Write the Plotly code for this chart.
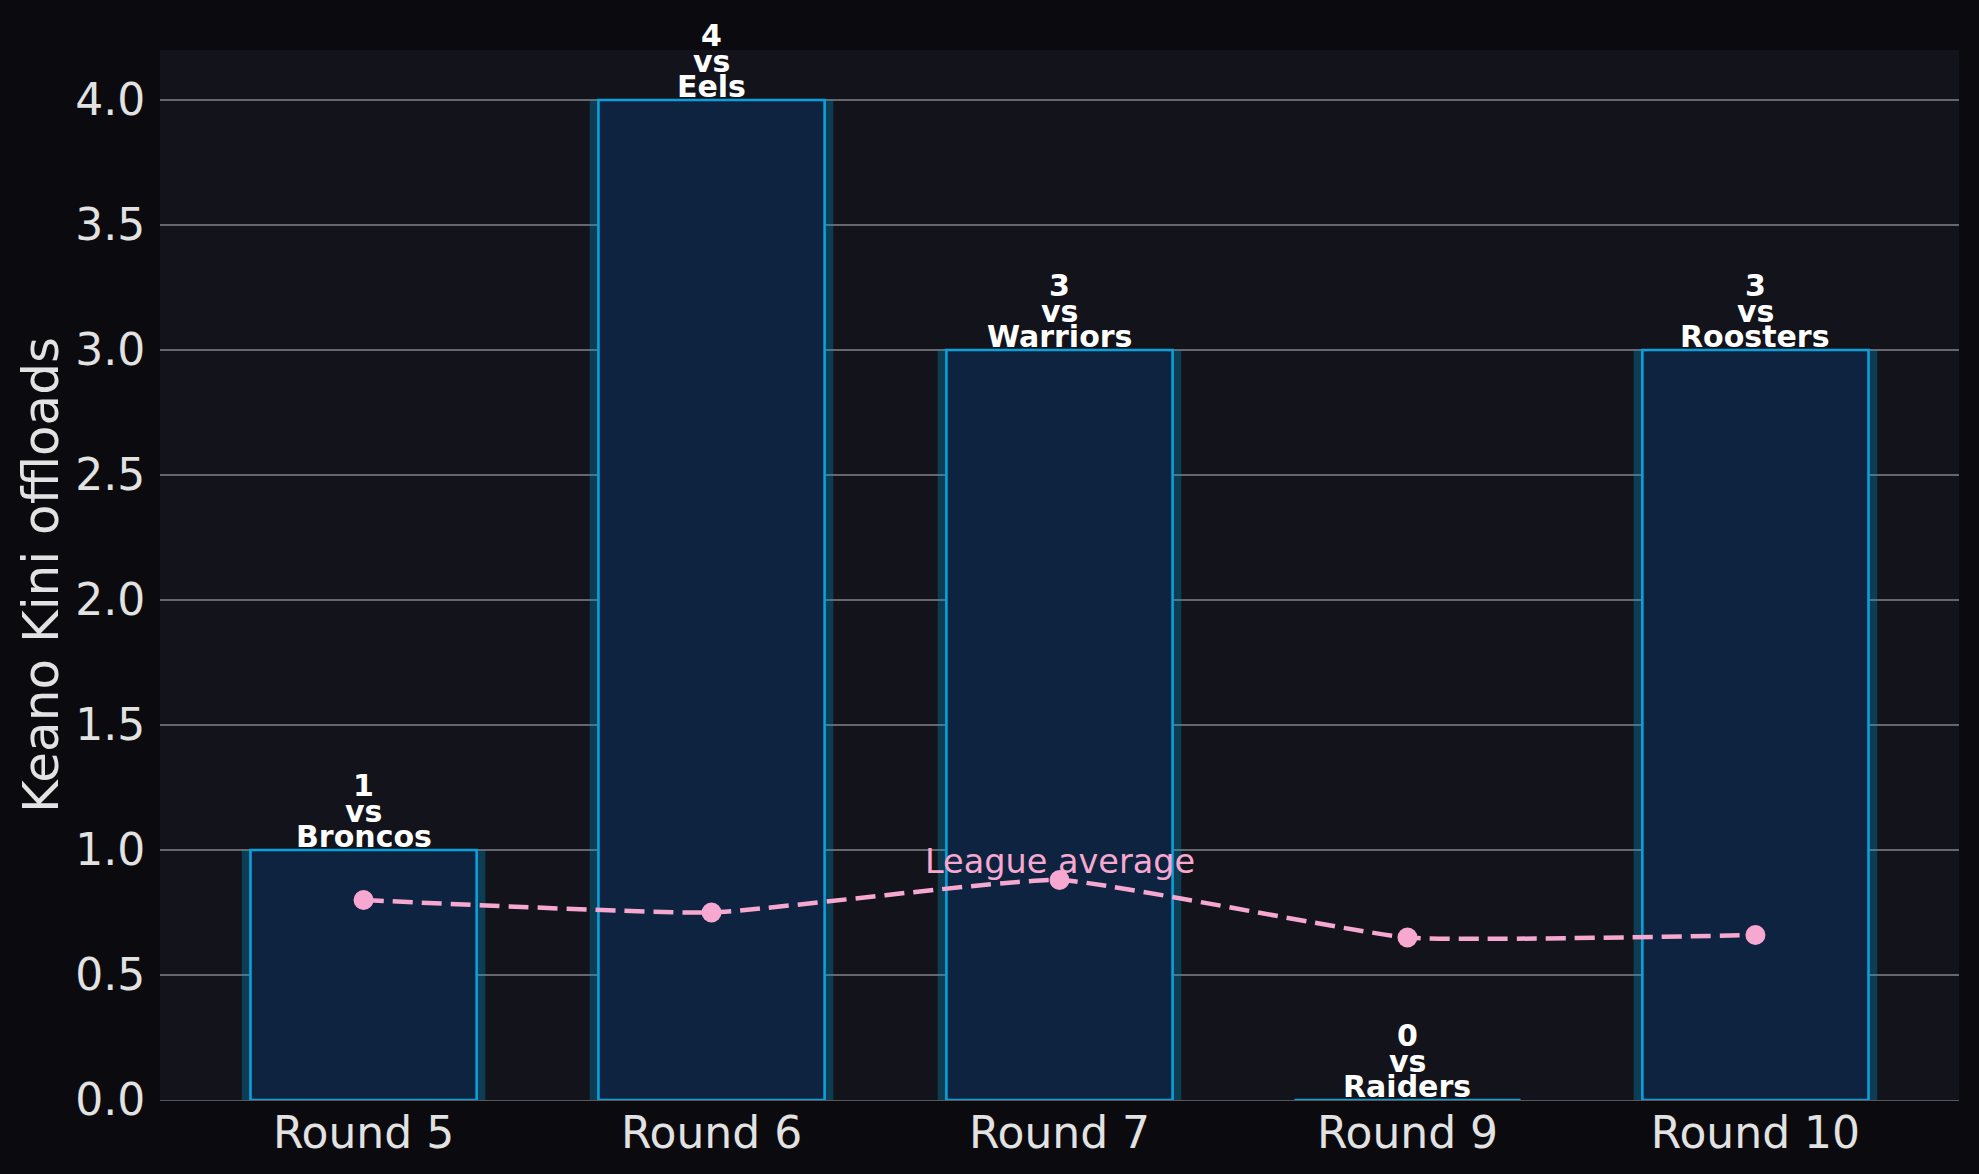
import plotly.graph_objects as go

rounds = ["Round 5", "Round 6", "Round 7", "Round 9", "Round 10"]
offloads = [1, 4, 3, 0, 3]
opponents = ["Broncos", "Eels", "Warriors", "Raiders", "Roosters"]
league_avg = [0.80, 0.75, 0.88, 0.65, 0.66]

x = list(range(len(rounds)))
FONT = "DejaVu Sans"
TXT = "#e2e2e2"

fig = go.Figure()
fig.add_trace(go.Bar(x=x, y=offloads, width=0.70,
                     marker=dict(color="rgba(0,154,216,0.3)", line=dict(width=0)),
                     hoverinfo="skip", showlegend=False))
fig.add_trace(go.Bar(x=x, y=offloads, width=0.65,
                     marker=dict(color="#0d2340", line=dict(color="#0aa0dc", width=2.6)),
                     showlegend=False))
fig.add_trace(go.Scatter(x=x, y=league_avg, mode="lines+markers",
                         line=dict(color="#f7a8d0", width=4.5, dash="20px,9px", shape="spline", smoothing=0.4),
                         marker=dict(color="#f7a8d0", size=20),
                         showlegend=False))

annotations = []
for xi, v, opp in zip(x, offloads, opponents):
    for txt, ys in ((opp, -6), ("vs", 19), (str(v), 45)):
        annotations.append(dict(x=xi, y=v, text="<b>%s</b>" % txt, showarrow=False,
                                xanchor="center", yanchor="bottom", yshift=ys,
                                font=dict(family=FONT, size=30, color="#ffffff")))
annotations.append(dict(x=x[2], y=league_avg[2], text="League average", showarrow=False,
                        xanchor="center", yanchor="bottom", yshift=-3,
                        font=dict(family=FONT, size=33.5, color="#f7a8d0")))

fig.update_layout(
    width=1979, height=1174,
    margin=dict(l=160, r=20, t=50, b=74),
    paper_bgcolor="#0b0b0f", plot_bgcolor="#13141b",
    barmode="overlay",
    font=dict(family=FONT, color=TXT, size=44),
    annotations=annotations,
    xaxis=dict(range=[-0.585, 4.585], tickmode="array", tickvals=x, ticktext=rounds,
               showgrid=False, zeroline=False, showline=True, linecolor="#55575c", linewidth=1.3,
               ticks="", ticklabelstandoff=-6, automargin=False,
               tickfont=dict(family=FONT, size=44, color=TXT)),
    yaxis=dict(range=[0, 4.2], dtick=0.5, tickformat=".1f",
               showgrid=True, gridcolor="#66676c", gridwidth=1.5, zeroline=False,
               ticks="outside", ticklen=5, tickcolor="rgba(0,0,0,0)", automargin=False,
               tickfont=dict(family=FONT, size=44, color=TXT),
               title=dict(text="Keano Kini offloads", standoff=0,
                          font=dict(family=FONT, size=50, color=TXT))),
)

fig.write_html("out.html")
